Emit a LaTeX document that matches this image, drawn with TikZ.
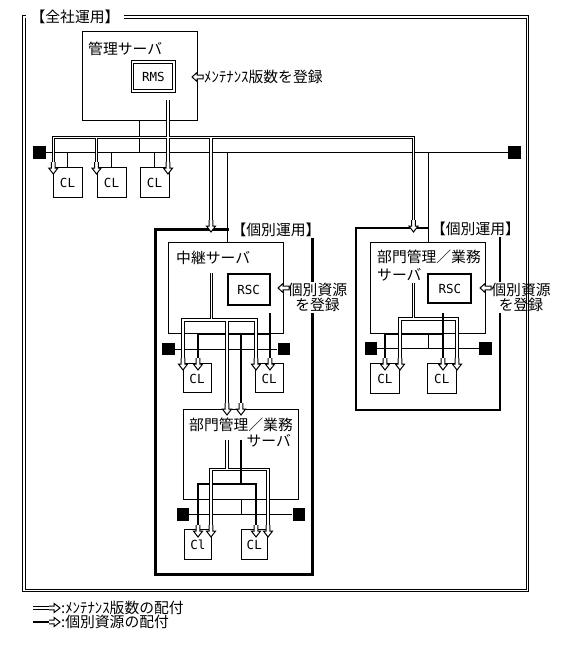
\documentclass[tikz,border=0pt]{standalone}
\usepackage{fontspec}
\newfontfamily\jp{Noto Sans CJK JP}
\newfontfamily\lat{DejaVu Sans Mono}
\usetikzlibrary{fit}
\tikzset{
  dnarrow/.pic={\filldraw[fill=white,draw=black,line width=1pt,line join=miter]
    (-1.9,-12) -- (-1.9,-6) -- (-4.6,-6) -- (0,0) -- (4.6,-6) -- (1.9,-6) -- (1.9,-12);},
  ltarrow/.pic={\filldraw[fill=white,draw=black,line width=1pt,line join=miter]
    (0,0) -- (5,-4.5) -- (5,-1.9) -- (11,-1.9) -- (11,1.9) -- (5,1.9) -- (5,4.5) -- cycle;},
  rtarrow/.pic={\filldraw[fill=white,draw=black,line width=1pt,line join=miter]
    (-11,-1.9) -- (-6,-1.9) -- (-6,-4.6) -- (0,0) -- (-6,4.6) -- (-6,1.9) -- (-11,1.9);},
}
\begin{document}
\begin{tikzpicture}[x=1pt,y=-1pt,
  box/.style={draw,line width=1pt,inner sep=0pt,fill=white},
  rbox/.style={draw,line width=2pt,inner sep=0pt,fill=white},
  jt/.style={font=\jp\fontsize{14.8}{15.5}\selectfont,inner sep=0pt},
  lt/.style={font=\lat\fontsize{12.5}{13}\selectfont,inner sep=0pt},
  wire/.style={line width=1pt},
  res/.style={line width=2pt},
  grp/.style={line width=2.5pt},
  dbl/.style={line width=3.4pt,postaction={draw=white,line width=1.4pt}},
  sq/.style={fill=black,minimum size=12.5pt,inner sep=0pt},
]
\useasboundingbox (0,0) rectangle (561,645);
\fill[white] (0,0) rectangle (561,645);

% group frames
\draw[grp] (155.5,229.5) rectangle (312.5,574.7);
\draw[grp] (355.8,227.8) rectangle (500.2,409.8);
\node[jt,fill=white,inner xsep=3pt,inner ysep=1pt] (g1) at (276,230) {【個別運用】};
\node[jt,fill=white,inner xsep=3pt,inner ysep=1pt] (g2) at (475.5,229) {【個別運用】};

% boxes
\node[box,fit={(82.5,31.8)(197.2,120.5)}] (ms) {};
\node[box,double,double distance=1.6pt,fit={(132.4,61.9)(174.2,91.2)}] (rms) {};
\node[box,fit={(53,167.5)(82,197)}] (cl1) {};
\node[box,fit={(97,167.5)(126,197)}] (cl2) {};
\node[box,fit={(140,167.5)(169,197)}] (cl3) {};

\node[box,fit={(168.8,242.5)(283.2,333.2)}] (relay) {};
\node[rbox,fit={(227.7,274.3)(269.7,305)}] (rsc1) {};
\node[box,fit={(183,363.3)(211,392.3)}] (mcl1) {};
\node[box,fit={(255,363.3)(283.3,392.3)}] (mcl2) {};

\node[box,fit={(370.8,242.5)(485.2,333.2)}] (dept1) {};
\node[rbox,fit={(428.3,274.3)(471.3,303)}] (rsc2) {};
\node[box,fit={(370.7,363.5)(399,393)}] (rcl1) {};
\node[box,fit={(427.5,363.5)(456,393)}] (rcl2) {};

\node[box,fit={(183.5,409.5)(298.5,499.2)}] (dept2) {};
\node[box,fit={(184.5,529.3)(211.2,559.2)}] (lcl1) {};
\node[box,fit={(241,529.3)(267.5,559.2)}] (lcl2) {};

% LAN segments
\node[sq] (lanA1) at (39.3,152.5) {};
\node[sq] (lanA2) at (514.7,152.5) {};
\node[sq] (lanM1) at (168.3,349) {};
\node[sq] (lanM2) at (283.8,349) {};
\node[sq] (lanR1) at (371,348.5) {};
\node[sq] (lanR2) at (485.5,348.5) {};
\node[sq] (lanL1) at (183,514.5) {};
\node[sq] (lanL2) at (298.8,514.5) {};

\coordinate (dM) at (227,242.5);
\draw[wire] (lanA1.east) -- (lanA2.west);
\draw[wire] (ms.south) -- (ms.south |- lanA1.center);
\draw[wire] (cl1.north) -- (cl1.north |- lanA1.center);
\draw[wire] (cl2.north) -- (cl2.north |- lanA1.center);
\draw[wire] (cl3.north) -- (cl3.north |- lanA1.center);
\draw[wire] (dM) -- (dM |- lanA1.center);
\draw[wire] (dept1.north) -- (dept1.north |- lanA1.center);
\draw[wire] (lanM1.east) -- (lanM2.west);
\draw[wire] (lanR1.east) -- (lanR2.west);
\draw[wire] (dept1.south) -- (dept1.south |- lanR1.center);
\draw[wire] (lanL1.east) -- (lanL2.west);
\draw[wire] (dept2.south) -- (dept2.south |- lanL1.center);

% arrow tips
\coordinate (tA1) at (53.3,174);
\coordinate (tA2) at (96.5,174);
\coordinate (tA3) at (168,174);
\coordinate (tM) at (211,232);
\coordinate (tR) at (413.5,232);
\coordinate (tm1) at (183,370);
\coordinate (tm2) at (198,370);
\coordinate (tm3) at (256,370);
\coordinate (tm4) at (270,370);
\coordinate (tLd) at (227,415);
\coordinate (tLt) at (241,415);
\coordinate (tr1) at (385,370);
\coordinate (tr2) at (400,370);
\coordinate (tr3) at (443,370);
\coordinate (tr4) at (457,370);
\coordinate (tl1) at (198,537);
\coordinate (tl2) at (211,537);
\coordinate (tl3) at (256,537);
\coordinate (tl4) at (268,537);

% bus levels and starts
\coordinate (busA) at (0,137.3);
\coordinate (rmsout) at (168,100);
\coordinate (busB) at (0,320);
\coordinate (busBt) at (0,334.3);
\coordinate (mB0) at (211.5,273);
\coordinate (rsc1out) at (270,313);
\coordinate (busC) at (0,319);
\coordinate (busCt) at (0,334.3);
\coordinate (mC0) at (413.5,283);
\coordinate (rsc2out) at (443,313);
\coordinate (busD) at (0,469.5);
\coordinate (busDt) at (0,484.3);
\coordinate (mD0) at (227,440);
\coordinate (mD1) at (241,440);

% individual resource (thick) lines
\draw[res] (rsc1out) -- ([yshift=12pt]tm4)
  ([yshift=12pt]tm2) -- (tm2 |- busBt) -- (tm4 |- busBt)
  (tLt |- busBt) -- ([yshift=12pt]tLt);
\draw[res] (rsc2out) -- ([yshift=12pt]tr3)
  ([yshift=12pt]tr1) -- (tr1 |- busCt) -- (tr3 |- busCt);
\draw[res] (mD1) -- (mD1 |- busDt)
  ([yshift=12pt]tl1) -- (tl1 |- busDt) -- (tl3 |- busDt) -- ([yshift=12pt]tl3);

% maintenance (double) lines
\draw[dbl] (rmsout) -- ([yshift=12pt]tA3)
  ([yshift=12pt]tA1) -- (tA1 |- busA) -- (tR |- busA) -- ([yshift=12pt]tR)
  ([yshift=12pt]tA2) -- (tA2 |- busA)
  ([yshift=12pt]tM) -- (tM |- busA);
\draw[dbl] (mB0) -- (mB0 |- busB)
  ([yshift=12pt]tm1) -- (tm1 |- busB) -- (tm3 |- busB) -- ([yshift=12pt]tm3)
  (tLd |- busB) -- ([yshift=12pt]tLd);
\draw[dbl] (mC0) -- (mC0 |- busC)
  ([yshift=12pt]tr2) -- (tr2 |- busC) -- (tr4 |- busC) -- ([yshift=12pt]tr4);
\draw[dbl] (mD0) -- (mD0 |- busD)
  ([yshift=12pt]tl2) -- (tl2 |- busD) -- (tl4 |- busD) -- ([yshift=12pt]tl4);

% thick verticals crossing over double buses
\draw[res] (mD1) -- (mD1 |- busDt);
\draw[res] (rsc2out) -- ([yshift=12pt]tr3);

% hollow arrow heads
\foreach \t in {tA1,tA2,tA3,tM,tR,tm1,tm2,tm3,tm4,tLd,tLt,tr1,tr2,tr3,tr4,tl1,tl2,tl3,tl4}
  \pic at (\t) {dnarrow};

% box texts
\node[lt] (xrms) at (rms.center) {RMS};
\node[lt] (xrsc1) at (rsc1.center) {RSC};
\node[lt] (xrsc2) at (rsc2.center) {RSC};
\node[lt] (xcl1) at ([yshift=-1pt]cl1.center) {CL};
\node[lt] (xcl2) at ([yshift=-1pt]cl2.center) {CL};
\node[lt] (xcl3) at ([yshift=-1pt]cl3.center) {CL};
\node[lt] (xmcl1) at ([yshift=-1pt]mcl1.center) {CL};
\node[lt] (xmcl2) at ([yshift=-1pt]mcl2.center) {CL};
\node[lt] (xrcl1) at ([yshift=-1pt]rcl1.center) {CL};
\node[lt] (xrcl2) at ([yshift=-1pt]rcl2.center) {CL};
\node[lt] (xlcl1) at ([yshift=-1pt]lcl1.center) {Cl};
\node[lt] (xlcl2) at ([yshift=-1pt]lcl2.center) {CL};

% server labels
\node[jt,anchor=west] (tms) at (88,49) {管理サーバ};
\node[jt,anchor=west] (trel) at (176,258) {中継サーバ};
\node[jt,anchor=west] (td1a) at (377,257) {部門管理／業務};
\node[jt,anchor=west] (td1b) at (377,275) {サーバ};
\node[jt,anchor=west] (td2a) at (189,425) {部門管理／業務};
\node[jt,anchor=east] (td2b) at (291,441) {サーバ};

% annotations
\node[jt,anchor=west] (nrms) at (204,77) {ﾒﾝﾃﾅﾝｽ版数を登録};
\pic at (192,77) {ltarrow};
\node[jt,align=center,fill=white,inner sep=1pt] (n1) at (317.5,297.5) {個別資源\\を登録};
\pic at (278,288) {ltarrow};
\node[jt,align=center,fill=white,inner sep=1pt] (n2) at (521,297.5) {個別資源\\を登録};
\pic at (480,288) {ltarrow};

% outer frame and title
\draw[wire] (22.5,15.5) rectangle (528.5,591.5);
\draw[wire] (25,18) rectangle (526,589);
\node[jt,fill=white,inner xsep=5pt,inner ysep=1pt] (title) at (75,16.5) {【全社運用】};

% legend
\coordinate (lg1) at (60,608);
\coordinate (lg1s) at (33,608);
\coordinate (lg2) at (60,622);
\coordinate (lg2s) at (33,622);
\draw[dbl] (lg1s) -- ([xshift=-11pt]lg1);
\pic at (lg1) {rtarrow};
\node[jt,anchor=west] (lt1) at (61,608) {:ﾒﾝﾃﾅﾝｽ版数の配付};
\draw[res] (lg2s) -- ([xshift=-11pt]lg2);
\pic at (lg2) {rtarrow};
\node[jt,anchor=west] (lt2) at (61,622) {:個別資源の配付};
\end{tikzpicture}
\end{document}
